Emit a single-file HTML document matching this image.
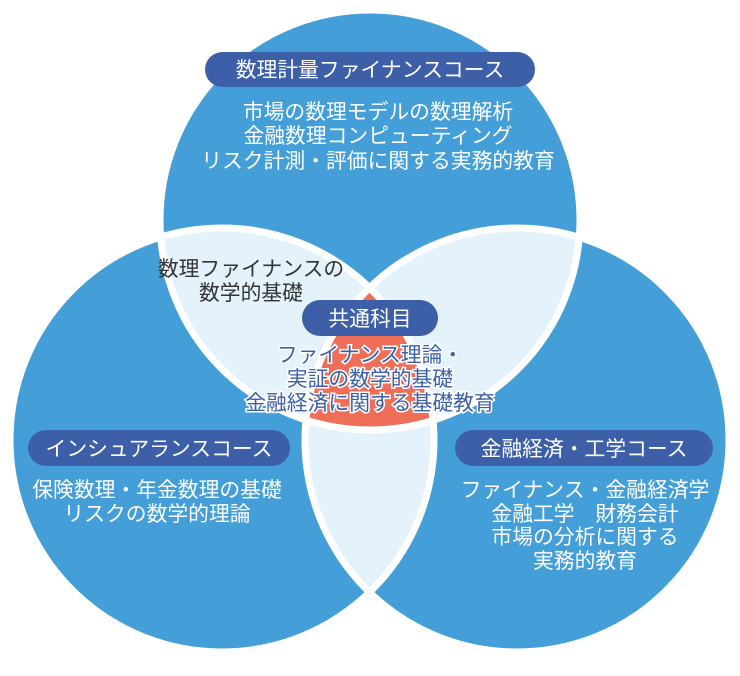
<!DOCTYPE html>
<html><head><meta charset="utf-8"><style>
html,body{margin:0;padding:0;background:#fff;}
svg{display:block;font-family:"Liberation Sans","Noto Sans CJK JP",sans-serif;}
</style></head><body>
<svg width="740" height="676" viewBox="0 0 740 676" xmlns="http://www.w3.org/2000/svg">
<defs>
<clipPath id="c1"><circle cx="370" cy="220" r="210"/></clipPath>
<clipPath id="c2"><circle cx="222" cy="440" r="212"/></clipPath>
<clipPath id="c3"><circle cx="517" cy="440" r="212"/></clipPath>
</defs>
<circle cx="370" cy="220" r="210" fill="#449fd8"/>
<circle cx="222" cy="440" r="212" fill="#449fd8"/>
<circle cx="517" cy="440" r="212" fill="#449fd8"/>
<g clip-path="url(#c1)"><circle cx="222" cy="440" r="212" fill="#e3f2fb"/><circle cx="517" cy="440" r="212" fill="#e3f2fb"/></g>
<g clip-path="url(#c2)"><circle cx="517" cy="440" r="212" fill="#e3f2fb"/>
<g clip-path="url(#c3)"><circle cx="370" cy="220" r="210" fill="#ee6e58"/></g></g>
<g fill="none" stroke="#fff" stroke-width="7">
<circle cx="370" cy="220" r="210"/>
<circle cx="222" cy="440" r="212"/>
<circle cx="517" cy="440" r="212"/>
</g>
<g fill="#3d5fa8">
<rect x="205" y="52" width="330" height="35" rx="17.5"/>
<rect x="28" y="430" width="262" height="36" rx="18"/>
<rect x="455" y="430" width="258" height="36" rx="18"/>
<rect x="302" y="300" width="136" height="36" rx="18"/>
</g>
<g fill="#fff" font-size="20.8" text-anchor="middle">
<text x="370" y="77">数理計量ファイナンスコース</text>
<text x="159" y="456">インシュアランスコース</text>
<text x="584" y="456">金融経済・工学コース</text>
<text x="370" y="326">共通科目</text>
<text x="378" y="119">市場の数理モデルの数理解析</text>
<text x="378" y="143">金融数理コンピューティング</text>
<text x="378" y="168">リスク計測・評価に関する実務的教育</text>
<text x="157" y="497">保険数理・年金数理の基礎</text>
<text x="157" y="521">リスクの数学的理論</text>
<text x="585" y="497">ファイナンス・金融経済学</text>
<text x="585" y="521">金融工学　財務会計</text>
<text x="585" y="544">市場の分析に関する</text>
<text x="585" y="568">実務的教育</text>
</g>
<g fill="#333" font-size="20.8" text-anchor="middle">
<text x="251" y="276">数理ファイナンスの</text>
<text x="251" y="300">数学的基礎</text>
</g>
<g fill="#3d5fa8" stroke="#fff" stroke-width="3" paint-order="stroke" font-size="20.8" text-anchor="middle">
<text x="370" y="362">ファイナンス理論・</text>
<text x="370" y="386">実証の数学的基礎</text>
<text x="370" y="410">金融経済に関する基礎教育</text>
</g>
</svg>
</body></html>
